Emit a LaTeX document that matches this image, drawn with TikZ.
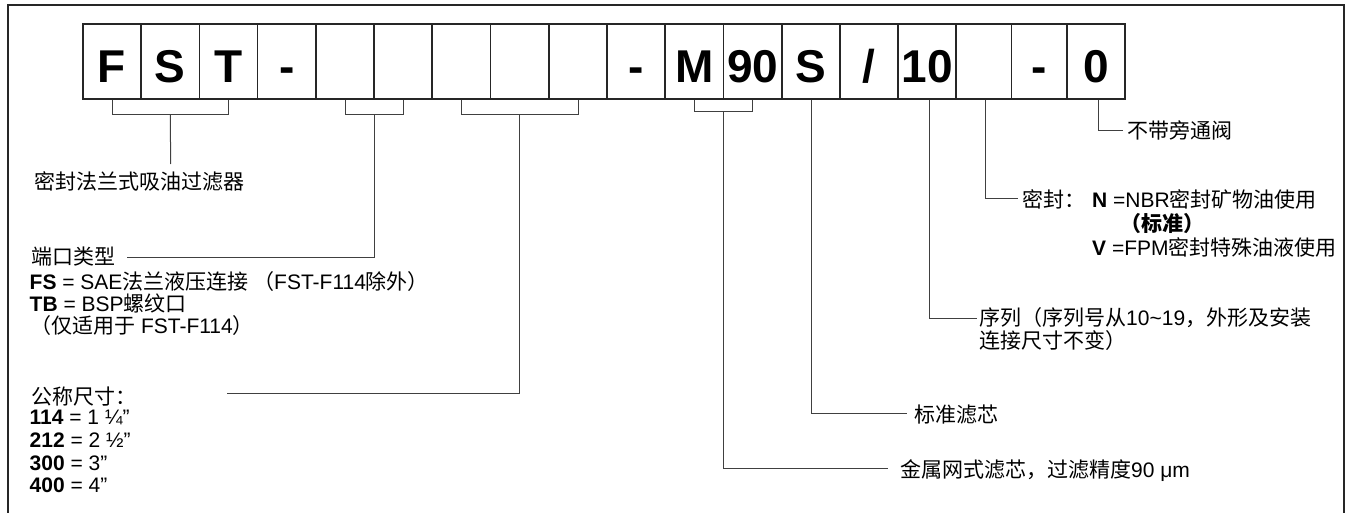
\documentclass[tikz,border=0pt]{standalone}
\usepackage{fontspec}
\setmainfont{Liberation Sans}
\newfontfamily\cjkfont{Noto Sans CJK SC}[Scale=1.0]
\newcommand\zh[1]{{\cjkfont #1}}
\usetikzlibrary{calc}
\begin{document}
\begin{tikzpicture}[x=1pt,y=-1pt,
  cell/.style={draw=black!85, line width=1.2pt, minimum height=75pt, inner sep=0pt,
    text height=43pt, text depth=0pt,
    font=\fontsize{46}{46}\selectfont\bfseries},
  lab/.style={anchor=base west, inner sep=0pt, font=\fontsize{21}{22.5}\selectfont},
  conn/.style={draw=black!75, line width=1pt},
  frameline/.style={draw=black!85, line width=1.4pt}]
\useasboundingbox (0,0) rectangle (1347,513);
% outer frame (open at the bottom)
\draw[frameline] (8,513) -- (8,5) -- (1344,5) -- (1344,513);
% code cells
\foreach \n/\l/\r/\t in {1/83/141/F, 2/141/199.5/S, 3/199.5/257.7/T, 4/257.7/316/-,
  5/316/374/{}, 6/374/432/{}, 7/432/490.7/{}, 8/490.7/549/{}, 9/549/607/{},
  10/607/665/-, 11/665/723.5/M, 12/723.5/782/90, 13/782/840/S, 14/840/898/{\char"2F},
  15/898/956/10, 16/956/1011.7/{}, 17/1011.7/1067/-, 18/1067/1125/0}
  \node[cell, minimum width={(\r-\l)*1pt}] (c\n) at ({(\l+\r)/2},61.5) {\t};
% labels left
\node[lab] (t1) at (34,190) {\zh{密封法兰式吸油过滤器}};
\node[lab] (t2) at (31,265) {\zh{端口类型}};
\node[lab] (t3) at (29.5,290) {\textbf{FS} = SAE\zh{法兰液压连接 （}FST-F114\zh{除外）}};
\node[lab] (t4) at (29.5,311.7) {\textbf{TB} = BSP\zh{螺纹口}};
\node[lab] (t5) at (30,333.3) {\zh{（仅适用于} FST-F114\zh{）}};
\node[lab] (t6) at (31,404) {\zh{公称尺寸：}};
\node[lab] (t7) at (29.5,424.3) {\textbf{114} = 1 ¼”};
\node[lab] (t8) at (29.5,447.3) {\textbf{212} = 2 ½”};
\node[lab] (t9) at (29.5,470) {\textbf{300} = 3”};
\node[lab] (t10) at (29.5,492.5) {\textbf{400} = 4”};
% labels right
\node[lab] (r1) at (1127,139) {\zh{不带旁通阀}};
\node[lab] (r2) at (1022,208) {\zh{密封：}};
\node[lab] (r3) at (1092,207.3) {\textbf{N} =NBR\zh{密封矿物油使用}};
\node[lab] (r4) at (1120,232) {\zh{\bfseries（标准）}};
\node[lab] (r5) at (1092,255) {\textbf{V} =FPM\zh{密封特殊油液使用}};
\node[lab] (r6) at (979,325.7) {\zh{序列（序列号从}10\textasciitilde19\zh{，外形及安装}};
\node[lab] (r7) at (979,348) {\zh{连接尺寸不变）}};
\node[lab] (r8) at (914,422) {\zh{标准滤芯}};
\node[lab] (r9) at (900,477.7) {\zh{金属网式滤芯，过滤精度}90 μm};
% free ends of connectors
\coordinate (e1) at (170.7,164);
\coordinate (e2) at (126.7,257.3);
\coordinate (e3) at (226.7,393.3);
\coordinate (e4) at (888.3,468.3);
\coordinate (e5) at (907,413.3);
\coordinate (e6) at (977,318.3);
\coordinate (e7) at (1018.3,199);
\coordinate (e8) at (1123,131);
% brackets and connectors
\draw[conn] (c1.south) -- ++(0,15) -| (c3.south);
\draw[conn] (c2.south) ++(0,15) -- (e1);
\draw[conn] (c5.south) -- ++(0,15) -| (c6.south);
\draw[conn] ($(c5.south)!0.5!(c6.south)+(0,15)$) |- (e2);
\draw[conn] (c7.south) -- ++(0,15) -| (c9.south);
\draw[conn] ($(c8.south)+(0,15)$) |- (e3);
\draw[conn] (c11.south) -- ++(0,11.7) -| (c12.south);
\draw[conn] ($(c11.south)!0.5!(c12.south)+(0,11.7)$) |- (e4);
\draw[conn] (c13.south) |- (e5);
\draw[conn] ([xshift=2pt]c15.south) |- (e6);
\draw[conn] ([xshift=1.5pt]c16.south) |- (e7);
\draw[conn] ([xshift=2.5pt]c18.south) |- (e8);
\end{tikzpicture}
\end{document}
